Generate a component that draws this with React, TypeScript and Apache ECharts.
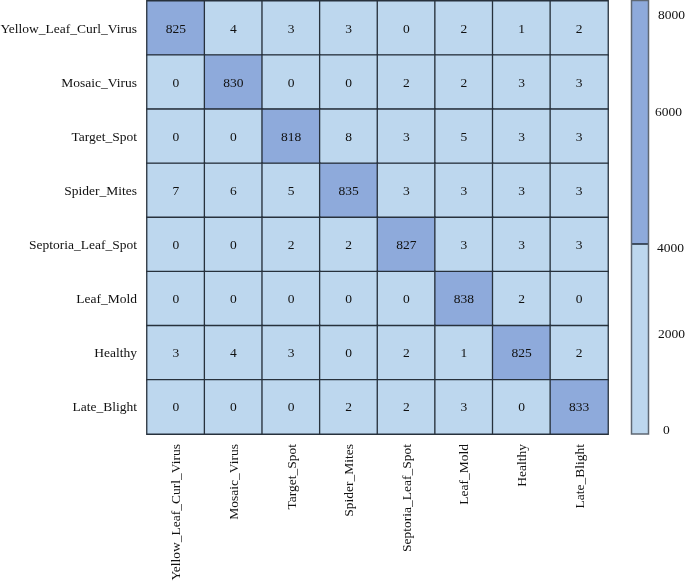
import React, { useEffect, useRef } from "react";
import * as echarts from "echarts";

const classes = [
  "Yellow_Leaf_Curl_Virus",
  "Mosaic_Virus",
  "Target_Spot",
  "Spider_Mites",
  "Septoria_Leaf_Spot",
  "Leaf_Mold",
  "Healthy",
  "Late_Blight",
];

const rowYellow = [825, 4, 3, 3, 0, 2, 1, 2];
const rowMosaic = [0, 830, 0, 0, 2, 2, 3, 3];
const rowTarget = [0, 0, 818, 8, 3, 5, 3, 3];
const rowSpider = [7, 6, 5, 835, 3, 3, 3, 3];
const rowSeptoria = [0, 0, 2, 2, 827, 3, 3, 3];
const rowLeafMold = [0, 0, 0, 0, 0, 838, 2, 0];
const rowHealthy = [3, 4, 3, 0, 2, 1, 825, 2];
const rowLate = [0, 0, 0, 2, 2, 3, 0, 833];

const matrix = [rowYellow, rowMosaic, rowTarget, rowSpider, rowSeptoria, rowLeafMold, rowHealthy, rowLate];

const colorbarTicks = ["8000", "6000", "4000", "2000", "0"];

const LIGHT = "#bdd7ee";
const DARK = "#8eaadb";
const FONT = "'Liberation Serif', 'Times New Roman', serif";
const FS = 13.5;

export default function App() {
  const ref = useRef<HTMLDivElement>(null);
  useEffect(() => {
    if (!ref.current) return;
    const chart = echarts.init(ref.current, null, { renderer: "svg" });
    const data: number[][] = [];
    matrix.forEach((row, r) => row.forEach((v, c) => data.push([c, r, v])));

    const tickPos: Record<string, [number, number]> = {
      "8000": [658, 14],
      "6000": [655, 111],
      "4000": [657, 247],
      "2000": [658, 333],
      "0": [663, 429],
    };

    chart.setOption({
      animation: false,
      grid: { left: 147, top: 1, width: 461, height: 433, outerBoundsMode: "none", containLabel: false },
      xAxis: {
        type: "category",
        data: classes,
        axisLine: { show: false },
        axisTick: { show: false },
        axisLabel: { rotate: 90, color: "#111", fontFamily: FONT, fontSize: FS, margin: 10, interval: 0 },
        splitLine: { show: false },
      },
      yAxis: {
        type: "category",
        data: classes,
        inverse: true,
        axisLine: { show: false },
        axisTick: { show: false },
        axisLabel: { color: "#111", fontFamily: FONT, fontSize: FS, margin: 10, interval: 0 },
        splitLine: { show: false },
      },
      visualMap: {
        show: false,
        type: "piecewise",
        dimension: 2,
        pieces: [
          { min: 0, max: 99, color: LIGHT },
          { min: 100, color: DARK },
        ],
      },
      series: [
        {
          type: "heatmap",
          data,
          label: { show: true, color: "#111", fontFamily: FONT, fontSize: FS },
          itemStyle: { borderColor: "#27313c", borderWidth: 1.3 },
          emphasis: { disabled: true },
        },
      ],
      graphic: [
        { type: "rect", shape: { x: 631.5, y: 0.5, width: 17, height: 244 }, style: { fill: DARK, stroke: "none" } },
        { type: "rect", shape: { x: 631.5, y: 244, width: 17, height: 190 }, style: { fill: LIGHT, stroke: "none" } },
        { type: "line", shape: { x1: 631.5, y1: 244, x2: 648.5, y2: 244 }, style: { stroke: "#1f2a36", lineWidth: 1.5 } },
        { type: "rect", shape: { x: 631.5, y: 0.5, width: 17, height: 433.5 }, style: { fill: "none", stroke: "#5f6873", lineWidth: 1.5 } },
        ...colorbarTicks.map((t) => ({
          type: "text",
          x: tickPos[t][0],
          y: tickPos[t][1],
          style: { text: t, fill: "#111", font: `${FS}px ${FONT}`, textVerticalAlign: "middle", verticalAlign: "middle" },
        })),
      ],
    });
    return () => chart.dispose();
  }, []);
  return <div ref={ref} style={{ position: "fixed", left: 0, top: 0, width: 685, height: 584 }} />;
}
